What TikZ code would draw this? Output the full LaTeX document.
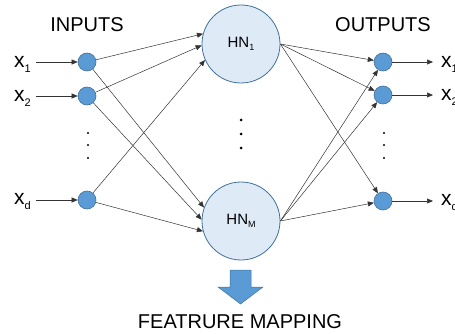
\documentclass[tikz,border=0pt]{standalone}
\usepackage{fontspec}
\setmainfont{Liberation Sans}
\usetikzlibrary{arrows.meta}
\definecolor{unitfill}{HTML}{5B9BD5}
\definecolor{unitline}{HTML}{41719C}
\definecolor{hidfill}{HTML}{DEEBF7}
\newcommand{\xsub}[1]{{\fontsize{21}{21}\selectfont x}{\fontsize{11}{11}\selectfont\raisebox{-5pt}{#1}}}
\newcommand{\hnsub}[1]{{\fontsize{15}{15}\selectfont HN}{\fontsize{9}{9}\selectfont\raisebox{-3pt}{#1}}}
\begin{document}
\begin{tikzpicture}[x=1pt,y=-1pt,
  unit/.style={circle,fill=unitfill,draw=unitline,line width=0.6pt,minimum size=18pt,inner sep=0pt},
  hidden/.style={circle,fill=hidfill,draw=unitline,line width=0.8pt,minimum size=78pt,inner sep=0pt},
  link/.style={draw=black!80,line width=0.5pt,-{Triangle[length=6pt,width=5pt]}},
  title/.style={font=\fontsize{20}{20}\selectfont,inner sep=0pt},
  dot/.style={circle,fill=black,inner sep=0pt,minimum size=2.4pt},
  bigdot/.style={circle,fill=black,inner sep=0pt,minimum size=3pt}]
\useasboundingbox (0,0) rectangle (455,334);

% input layer
\node[unit] (i1) at (87,62) {};
\node[unit] (i2) at (87,96) {};
\node[unit] (id) at (87,200) {};
\node[anchor=west,inner sep=0pt] (x1) at (14,64) {\xsub{1}};
\node[anchor=west,inner sep=0pt] (x2) at (14,98) {\xsub{2}};
\node[anchor=west,inner sep=0pt] (xd) at (14,202) {\xsub{d}};
\coordinate (a1) at (36,62);
\coordinate (a2) at (36,96);
\coordinate (ad) at (36,200);
\draw[link] (a1) -- (i1);
\draw[link] (a2) -- (i2);
\draw[link] (ad) -- (id);
\node[title] (inputs) at (87,25) {INPUTS};
\node[dot] (ld1) at (88,133) {};
\node[dot] (ld2) at (88,145) {};
\node[dot] (ld3) at (88,158) {};

% hidden neurons
\node[hidden] (h1) at (241,44) {\hnsub{1}};
\node[hidden] (hm) at (241,221) {\hnsub{M}};
\node[bigdot] (md1) at (241,120) {};
\node[bigdot] (md2) at (241,134) {};
\node[bigdot] (md3) at (241,148) {};

% output layer
\node[unit] (o1) at (383,62) {};
\node[unit] (o2) at (383,95) {};
\node[unit] (od) at (383,201) {};
\node[title] (outputs) at (383,25) {OUTPUTS};
\node[dot] (rd1) at (384,133) {};
\node[dot] (rd2) at (384,145) {};
\node[dot] (rd3) at (384,158) {};
\coordinate (b1) at (433,62);
\coordinate (b2) at (433,95);
\coordinate (bd) at (433,201);
\draw[link] (o1) -- (b1);
\draw[link] (o2) -- (b2);
\draw[link] (od) -- (bd);
\node[anchor=west,inner sep=0pt] (y1) at (441,64) {\xsub{1}};
\node[anchor=west,inner sep=0pt] (y2) at (441,97) {\xsub{2}};
\node[anchor=west,inner sep=0pt] (yd) at (441,203) {\xsub{d}};

% input to hidden connections
\draw[link] (i1) -- (h1.165);
\draw[link] (i2) -- (h1.182);
\draw[link] (id) -- (h1.204);
\draw[link] (i1) -- (hm.160);
\draw[link] (i2) -- (hm.178);
\draw[link] (id) -- (hm.195);

% hidden to output connections
\draw[link] (h1.east) -- (o1);
\draw[link] (h1.east) -- (o2);
\draw[link] (h1.east) -- (od);
\draw[link] (hm.east) -- (o1);
\draw[link] (hm.east) -- (o2);
\draw[link] (hm.east) -- (od);

% feature mapping arrow
\draw[fill=unitfill,draw=unitline,line width=0.5pt]
  (230,270) -- (251,270) -- (251,287) -- (263,287) -- (240.5,304) -- (218,287) -- (230,287) -- cycle;
\node[title] (fm) at (240,322) {FEATRURE MAPPING};
\end{tikzpicture}
\end{document}
